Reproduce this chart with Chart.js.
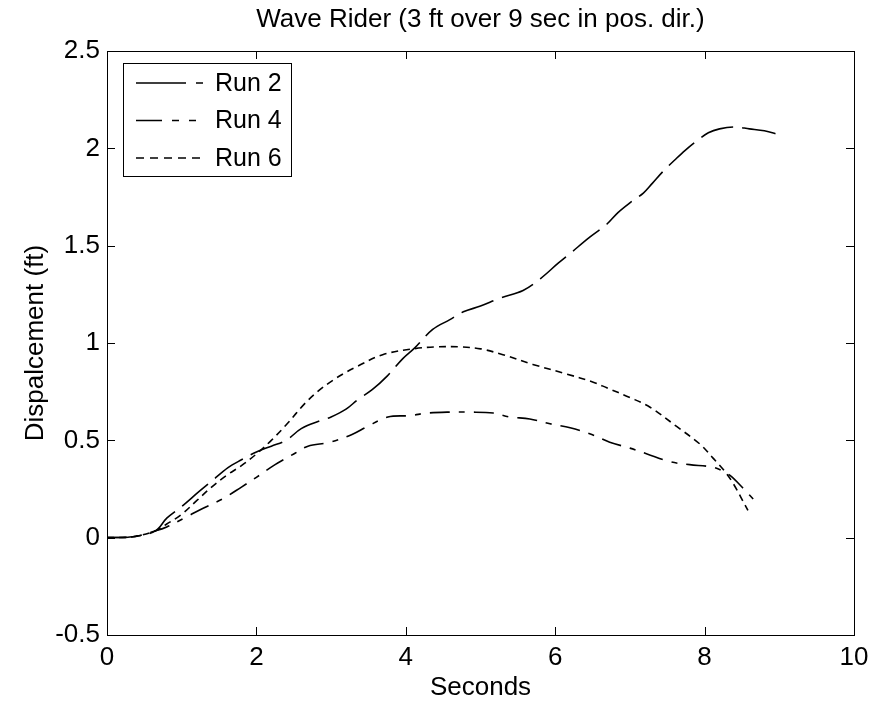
<!DOCTYPE html>
<html>
<head>
<meta charset="utf-8">
<script src="https://cdn.jsdelivr.net/npm/chart.js@4.4.1/dist/chart.umd.min.js"></script>
<style>
  html, body { margin: 0; padding: 0; background: #fff; }
  canvas { display: block; }
</style>
</head>
<body>
<canvas id="chart" width="876" height="704"></canvas>
<script>
// values
const run2Time = [0, 0.35, 0.65, 0.8, 1.0, 1.23, 1.4, 1.62, 1.8, 2.0, 2.2, 2.4, 2.6, 2.85, 3.0, 3.2, 3.36, 3.55, 3.75, 3.96, 4.12, 4.36, 4.59, 4.77, 5.0, 5.26, 5.57, 5.8, 6.04, 6.2, 6.45, 6.69, 6.84, 7.0, 7.18, 7.3, 7.44, 7.6, 7.74, 7.9, 8.05, 8.2, 8.4, 8.6, 8.8, 9.0];
const run2Disp = [0, 0.005, 0.035, 0.1, 0.16, 0.236, 0.29, 0.36, 0.4, 0.44, 0.47, 0.5, 0.56, 0.6, 0.62, 0.66, 0.71, 0.76, 0.83, 0.92, 0.975, 1.07, 1.12, 1.16, 1.19, 1.23, 1.27, 1.33, 1.41, 1.46, 1.54, 1.61, 1.67, 1.72, 1.77, 1.82, 1.88, 1.94, 1.99, 2.04, 2.08, 2.1, 2.11, 2.1, 2.09, 2.07];

const run4Time = [0, 0.35, 0.65, 0.8, 1.07, 1.28, 1.55, 1.8, 2.0, 2.25, 2.5, 2.69, 2.98, 3.28, 3.48, 3.76, 4.06, 4.28, 4.59, 4.86, 5.17, 5.39, 5.66, 5.93, 6.2, 6.49, 6.73, 7.0, 7.23, 7.54, 7.8, 8.07, 8.2, 8.34, 8.5, 8.72];
const run4Disp = [0, 0.005, 0.035, 0.055, 0.108, 0.15, 0.2, 0.26, 0.31, 0.375, 0.43, 0.47, 0.49, 0.53, 0.57, 0.62, 0.627, 0.64, 0.645, 0.645, 0.64, 0.62, 0.61, 0.585, 0.565, 0.53, 0.49, 0.46, 0.43, 0.39, 0.375, 0.365, 0.35, 0.32, 0.26, 0.17];

const run6Time = [0, 0.35, 0.65, 0.8, 1.0, 1.2, 1.4, 1.6, 1.8, 2.0, 2.2, 2.4, 2.65, 2.85, 3.03, 3.2, 3.35, 3.69, 4.1, 4.4, 4.73, 5.0, 5.3, 5.7, 6.16, 6.5, 6.69, 7.0, 7.27, 7.63, 7.94, 8.11, 8.25, 8.38, 8.58];
const run6Disp = [0, 0.005, 0.035, 0.07, 0.12, 0.19, 0.26, 0.32, 0.37, 0.43, 0.5, 0.58, 0.69, 0.76, 0.81, 0.85, 0.88, 0.94, 0.97, 0.98, 0.98, 0.97, 0.94, 0.89, 0.84, 0.8, 0.77, 0.72, 0.67, 0.57, 0.48, 0.41, 0.35, 0.28, 0.14];

const seriesNames = ["Run 2", "Run 4", "Run 6"];
const xTicks = [0, 2, 4, 6, 8, 10];
const yTicks = [-0.5, 0, 0.5, 1, 1.5, 2, 2.5];
const chartTitle = "Wave Rider (3 ft over 9 sec in pos. dir.)";

const FONT = "'Liberation Sans', Arial, sans-serif";

function toPoints(t, d) {
  return t.map((x, i) => ({ x: x, y: d[i] }));
}

// box round the axes + inward ticks like matlab
const framePlugin = {
  id: "frame",
  afterDatasetsDraw(chart) {
    const { ctx, chartArea: a, scales } = chart;
    ctx.save();
    ctx.strokeStyle = "#000";
    ctx.lineWidth = 1;
    ctx.setLineDash([]);
    ctx.strokeRect(a.left + 0.5, a.top + 0.5, a.right - a.left, a.bottom - a.top);
    ctx.beginPath();
    xTicks.forEach(v => {
      const px = Math.round(scales.x.getPixelForValue(v)) + 0.5;
      ctx.moveTo(px, a.bottom); ctx.lineTo(px, a.bottom - 8);
      ctx.moveTo(px, a.top); ctx.lineTo(px, a.top + 8);
    });
    yTicks.forEach(v => {
      const py = Math.round(scales.y.getPixelForValue(v)) + 0.5;
      ctx.moveTo(a.left, py); ctx.lineTo(a.left + 8, py);
      ctx.moveTo(a.right, py); ctx.lineTo(a.right - 8, py);
    });
    ctx.stroke();

    // title centred over the axes, not the whole canvas
    ctx.font = "26px " + FONT;
    ctx.fillStyle = "#000";
    ctx.textAlign = "center";
    ctx.textBaseline = "middle";
    ctx.fillText(chartTitle, (a.left + a.right) / 2, 20);
    ctx.restore();
  }
};

// legend box drawn inside the plot, top left
const boxLegend = {
  id: "boxLegend",
  afterDraw(chart) {
    const { ctx } = chart;
    const x0 = 123, y0 = 63, w = 168, h = 113;
    ctx.save();
    ctx.fillStyle = "#fff";
    ctx.fillRect(x0, y0, w, h);
    ctx.strokeStyle = "#000";
    ctx.lineWidth = 1;
    ctx.strokeRect(x0 + 0.5, y0 + 0.5, w, h);
    ctx.font = "25px " + FONT;
    ctx.fillStyle = "#000";
    ctx.textBaseline = "middle";
    chart.data.datasets.forEach((ds, i) => {
      const ly = y0 + 20 + i * 37.5;
      ctx.beginPath();
      ctx.setLineDash(ds.legendDash);
      ctx.lineWidth = ds.borderWidth;
      ctx.moveTo(136, ly);
      ctx.lineTo(206, ly);
      ctx.stroke();
      ctx.fillText(ds.label, 215, ly + 1);
    });
    ctx.restore();
  }
};

new Chart(document.getElementById("chart"), {
  type: "scatter",
  data: {
    datasets: [
      { label: seriesNames[0], data: toPoints(run2Time, run2Disp), borderDash: [34, 9], legendDash: [50, 10, 7, 20] },
      { label: seriesNames[1], data: toPoints(run4Time, run4Disp), borderDash: [20, 9, 6, 9], legendDash: [26, 10, 7, 10, 7, 20] },
      { label: seriesNames[2], data: toPoints(run6Time, run6Disp), borderDash: [7, 5], legendDash: [8, 6] }
    ].map(ds => Object.assign({
      showLine: true,
      borderColor: "#000",
      backgroundColor: "#000",
      borderWidth: 1.6,
      pointRadius: 0,
      tension: 0.35,
      fill: false
    }, ds))
  },
  options: {
    responsive: false,
    animation: false,
    devicePixelRatio: 1,
    layout: { padding: { left: 0, right: 22, top: 51, bottom: 0 } },
    plugins: {
      legend: { display: false },
      tooltip: { enabled: false },
      title: { display: false }
    },
    scales: {
      x: {
        type: "linear",
        min: 0, max: 10,
        afterBuildTicks: s => { s.ticks = xTicks.map(v => ({ value: v })); },
        afterFit: s => { s.height = 69; },
        grid: { display: false, drawTicks: false },
        border: { display: false },
        ticks: {
          color: "#000",
          padding: 7,
          font: { family: FONT, size: 26 },
          callback: v => String(v)
        },
        title: {
          display: true,
          text: "Seconds",
          color: "#000",
          font: { family: FONT, size: 26 },
          padding: { top: 0, bottom: 1 }
        }
      },
      y: {
        type: "linear",
        min: -0.5, max: 2.5,
        afterBuildTicks: s => { s.ticks = yTicks.map(v => ({ value: v })); },
        afterFit: s => { s.width = 107; },
        grid: { display: false, drawTicks: false },
        border: { display: false },
        ticks: {
          color: "#000",
          padding: 7,
          font: { family: FONT, size: 26 },
          callback: v => String(v)
        },
        title: {
          display: true,
          text: "Dispalcement (ft)",
          color: "#000",
          font: { family: FONT, size: 26 },
          padding: { top: 20, bottom: 0 }
        }
      }
    }
  },
  plugins: [framePlugin, boxLegend]
});
</script>
</body>
</html>
